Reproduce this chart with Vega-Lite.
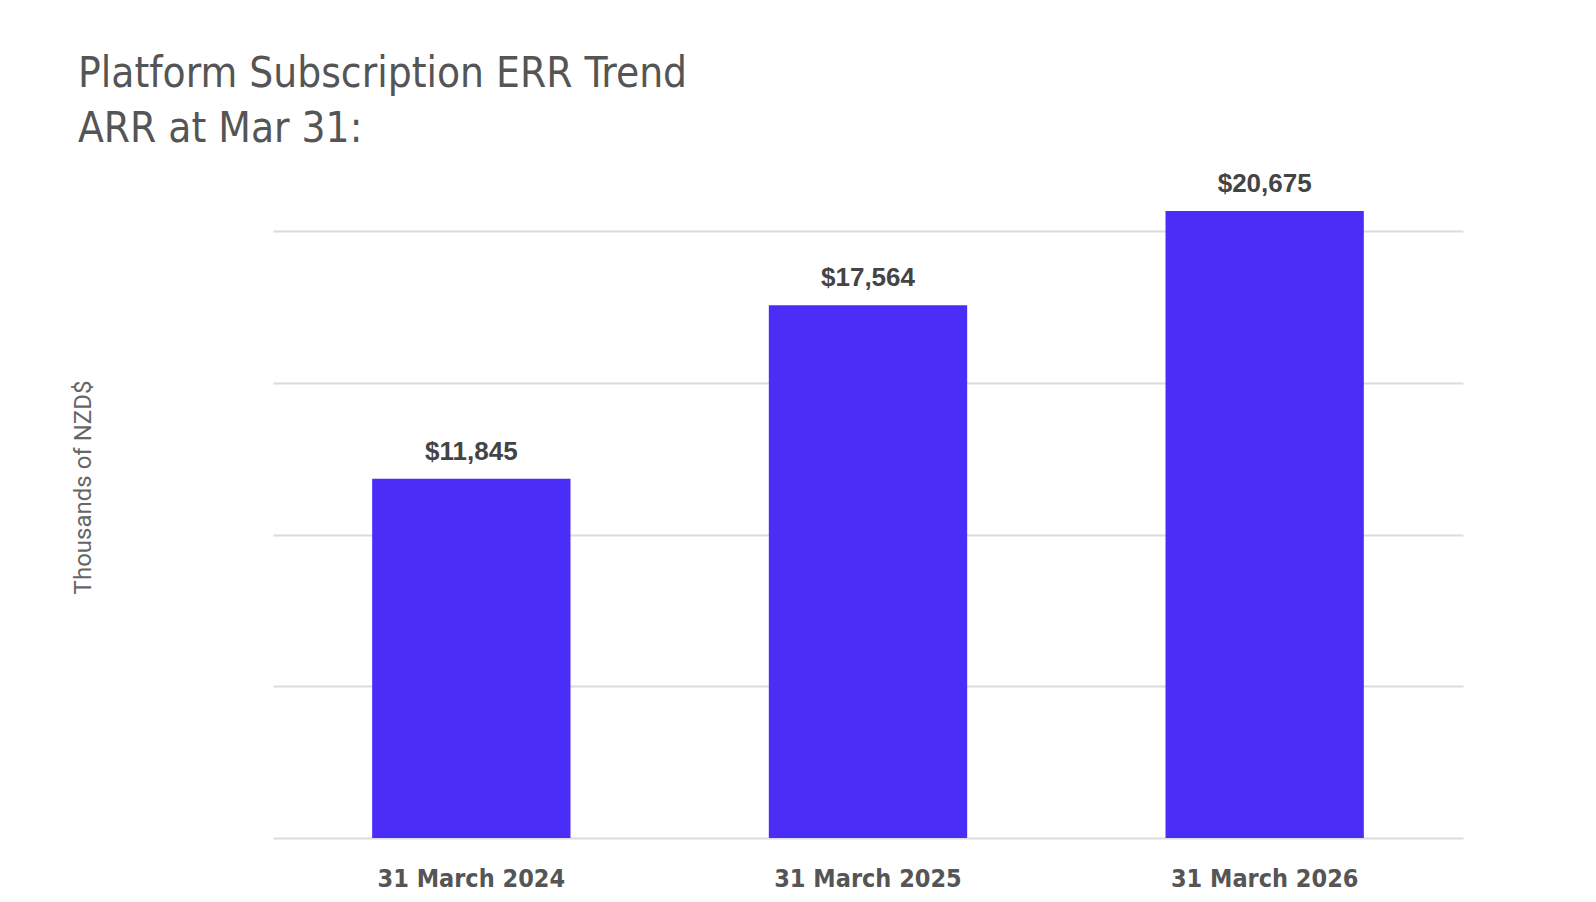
{
  "$schema": "https://vega.github.io/schema/vega-lite/v6.json",
  "width": 1190,
  "height": 627,
  "autosize": {"type": "none"},
  "padding": {"left": 273, "top": 211, "right": 133, "bottom": 64},
  "background": "#ffffff",
  "config": {"view": {"stroke": null}},
  "title": {
    "text": ["Platform Subscription ERR Trend", "ARR at Mar 31:"],
    "anchor": "start",
    "frame": "group",
    "dx": -195,
    "fontSize": 42,
    "lineHeight": 55,
    "font": "DejaVu Sans Condensed, sans-serif",
    "fontWeight": "normal",
    "color": "#555555",
    "offset": 20
  },
  "data": {
    "values": [
      {"date": "31 March 2024", "arr": 11845, "label": "$11,845"},
      {"date": "31 March 2025", "arr": 17564, "label": "$17,564"},
      {"date": "31 March 2026", "arr": 20675, "label": "$20,675"}
    ]
  },
  "encoding": {
    "x": {
      "field": "date",
      "type": "nominal",
      "sort": null,
      "scale": {"paddingInner": 0.5, "paddingOuter": 0.25},
      "axis": {
        "title": null,
        "labelAngle": 0,
        "ticks": false,
        "domain": false,
        "labelLimit": 0,
        "labelPadding": 28,
        "labelFontSize": 25,
        "labelFont": "DejaVu Sans Condensed, sans-serif",
        "labelFontWeight": "bold",
        "labelColor": "#555555"
      }
    },
    "y": {
      "field": "arr",
      "type": "quantitative",
      "scale": {"domain": [0, 20675], "nice": false, "zero": true},
      "axis": {
        "title": "Thousands of NZD$",
        "values": [0, 5000, 10000, 15000, 20000],
        "labels": false,
        "ticks": false,
        "domain": false,
        "grid": true,
        "gridColor": "#dcdcdc",
        "gridWidth": 2,
        "titleFont": "Roboto, Liberation Sans, sans-serif",
        "titleFontSize": 24,
        "titleFontWeight": "normal",
        "titleColor": "#666666",
        "titleX": -190,
        "titleY": 276,
        "titleBaseline": "middle",
        "titleAlign": "center",
        "titleAngle": -90
      }
    }
  },
  "layer": [
    {"mark": {"type": "bar", "color": "#4a2ef8"}},
    {
      "mark": {
        "type": "text",
        "baseline": "middle",
        "dy": -27,
        "fontSize": 26,
        "fontWeight": "bold",
        "font": "Liberation Sans, Arial, sans-serif",
        "color": "#444444"
      },
      "encoding": {"text": {"field": "label"}}
    }
  ]
}
